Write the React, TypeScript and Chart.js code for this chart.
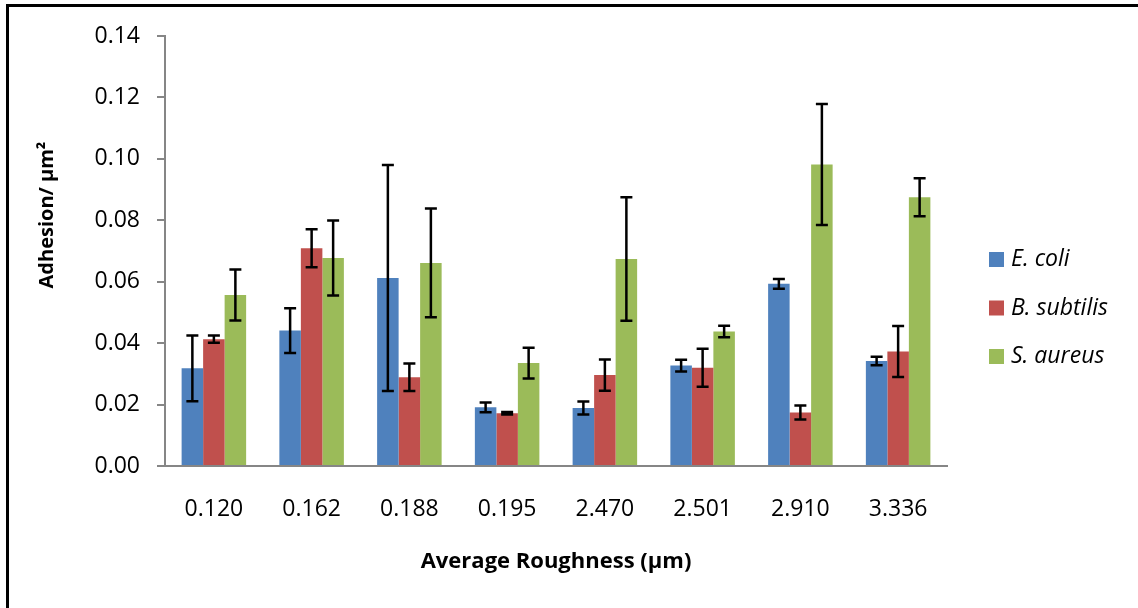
import React, { useEffect, useRef } from "react";
import { Chart, registerables } from "chart.js";

Chart.register(...registerables);

const categories = ["0.120", "0.162", "0.188", "0.195", "2.470", "2.501", "2.910", "3.336"];

const eColi = [0.0318, 0.0441, 0.0612, 0.0191, 0.0189, 0.0327, 0.0593, 0.0342];
const eColiErr = [0.0107, 0.0073, 0.0368, 0.0016, 0.0021, 0.0019, 0.0016, 0.0014];

const bSubtilis = [0.0413, 0.0709, 0.0289, 0.0172, 0.0296, 0.032, 0.0174, 0.0373];
const bSubtilisErr = [0.0012, 0.0062, 0.0045, 0.0004, 0.0051, 0.0062, 0.0023, 0.0083];

const sAureus = [0.0557, 0.0677, 0.0661, 0.0335, 0.0674, 0.0438, 0.0982, 0.0875];
const sAureusErr = [0.0083, 0.0122, 0.0177, 0.005, 0.0201, 0.0019, 0.0197, 0.0062];

const seriesNames = ["E. coli", "B. subtilis", "S. aureus"];
const seriesColors = ["#4F81BD", "#C0504D", "#9BBB59"];

const yMin = 0;
const yMax = 0.14;
const yStep = 0.02;

const xTitle = "Average Roughness (µm)";
const yTitle = "Adhesion/ µm²";

const FONT = '"Open Sans", "DejaVu Sans", sans-serif';
const AXIS_GRAY = "#868686";

const errorBarPlugin = {
  id: "errorBars",
  afterDatasetsDraw(chart: any) {
    const ctx = chart.ctx;
    const yScale = chart.scales.y;
    ctx.save();
    ctx.strokeStyle = "#000";
    ctx.lineWidth = 2.5;
    chart.data.datasets.forEach((ds: any, di: number) => {
      const meta = chart.getDatasetMeta(di);
      meta.data.forEach((bar: any, i: number) => {
        const v = ds.data[i];
        const e = ds.errors[i];
        const x = bar.x;
        const yTop = yScale.getPixelForValue(v + e);
        const yBot = yScale.getPixelForValue(v - e);
        const cap = 6;
        ctx.beginPath();
        ctx.moveTo(x, yTop);
        ctx.lineTo(x, yBot);
        ctx.moveTo(x - cap, yTop);
        ctx.lineTo(x + cap, yTop);
        ctx.moveTo(x - cap, yBot);
        ctx.lineTo(x + cap, yBot);
        ctx.stroke();
      });
    });
    ctx.restore();
  },
};

const yTitlePlugin = {
  id: "yTitle",
  afterDraw(chart: any) {
    const ctx = chart.ctx;
    ctx.save();
    ctx.translate(47, 215);
    ctx.rotate(-Math.PI / 2);
    ctx.font = `bold 20px ${FONT}`;
    ctx.fillStyle = "#000";
    ctx.textAlign = "center";
    ctx.textBaseline = "middle";
    ctx.fillText(yTitle, 0, 0);
    ctx.restore();
  },
};

const sideLegendPlugin = {
  id: "sideLegend",
  afterDraw(chart: any) {
    const ctx = chart.ctx;
    ctx.save();
    chart.data.datasets.forEach((ds: any, i: number) => {
      const cy = 259.5 + i * 48.5;
      ctx.fillStyle = ds.backgroundColor;
      ctx.fillRect(989, cy - 7.5, 15, 15);
      ctx.fillStyle = "#000";
      ctx.font = `italic 23px ${FONT}`;
      ctx.textAlign = "left";
      ctx.textBaseline = "middle";
      ctx.fillText(ds.label, 1011, cy);
    });
    ctx.restore();
  },
};

export default function App() {
  const canvasRef = useRef<HTMLCanvasElement | null>(null);

  useEffect(() => {
    if (!canvasRef.current) return;
    const values = [eColi, bSubtilis, sAureus];
    const errs = [eColiErr, bSubtilisErr, sAureusErr];
    const chart = new Chart(canvasRef.current, {
      type: "bar",
      data: {
        labels: categories,
        datasets: seriesNames.map((name, i) => ({
          label: name,
          data: values[i],
          errors: errs[i],
          backgroundColor: seriesColors[i],
          borderWidth: 0,
          categoryPercentage: 0.66,
          barPercentage: 1,
        })) as any,
      },
      options: {
        animation: false,
        responsive: false,
        maintainAspectRatio: false,
        layout: { padding: { left: 0, top: 36, right: 1138 - 947, bottom: 0 } },
        plugins: {
          legend: { display: false },
          tooltip: { enabled: false },
        },
        scales: {
          x: {
            grid: { display: false, drawTicks: false },
            border: { display: true, color: AXIS_GRAY, width: 2 },
            ticks: { font: { family: FONT, size: 23 }, color: "#000", padding: 30 },
            title: {
              display: true,
              text: xTitle,
              font: { family: FONT, size: 22, weight: "bold" },
              color: "#000",
              padding: { top: 0, bottom: 33 },
            },
            afterFit: (s: any) => {
              s.height = 142;
            },
          },
          y: {
            min: yMin,
            max: yMax,
            ticks: {
              stepSize: yStep,
              callback: (v: any) => Number(v).toFixed(2),
              font: { family: FONT, size: 23 },
              color: "#000",
              padding: 17,
            },
            grid: { drawOnChartArea: false, drawTicks: true, tickLength: 8, color: AXIS_GRAY, lineWidth: 2 },
            border: { display: true, color: AXIS_GRAY, width: 2 },
            afterFit: (s: any) => {
              s.width = 165;
            },
          },
        },
      } as any,
      plugins: [errorBarPlugin, yTitlePlugin, sideLegendPlugin],
    });
    return () => chart.destroy();
  }, []);

  return (
    <div style={{ position: "absolute", left: 0, top: 0, width: 1138, height: 608, background: "#fff", overflow: "hidden" }}>
      <div
        style={{
          position: "absolute",
          left: 6,
          top: 4,
          width: 1140,
          height: 620,
          borderTop: "3px solid #000",
          borderLeft: "3px solid #000",
          boxSizing: "border-box",
        }}
      />
      <canvas ref={canvasRef} width={1138} height={608} style={{ position: "absolute", left: 0, top: 0, display: "block" }} />
    </div>
  );
}
